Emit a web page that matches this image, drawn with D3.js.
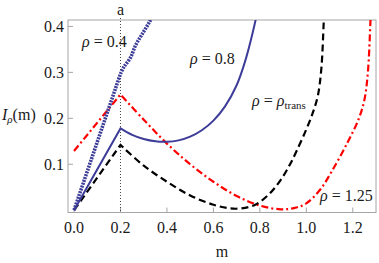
<!DOCTYPE html>
<meta charset="utf-8" />
<style>
  body { margin: 0; background: #fff; }
  .frame { fill: none; stroke: #a6a6a6; stroke-width: 1; }
  .tick { stroke: #a6a6a6; stroke-width: 1; }
</style>
<svg width="379" height="263" font-family="Liberation Serif, DejaVu Serif, serif" font-size="16" fill="#1a1a1a"></svg>
<script src="https://d3js.org/d3.v7.min.js"></script>
<script>
  var xTicks = [0, 0.2, 0.4, 0.6, 0.8, 1.0, 1.2];
  var yTicks = [0.1, 0.2, 0.3, 0.4];
  var kinkM = 0.2;

  // rho = 0.4 (blue, dotted)
  var m04 = [0, 0.2, 0.214, 0.243, 0.265, 0.293, 0.325, 0.34];
  var i04 = [0, 0.297, 0.311, 0.332, 0.359, 0.383, 0.41, 0.425];

  // rho = 0.8 (blue, solid)
  var m08 = [0, 0.2, 0.25, 0.3, 0.35, 0.4, 0.45, 0.5, 0.55, 0.6, 0.65, 0.7, 0.74, 0.78, 0.79];
  var i08 = [0, 0.178, 0.164, 0.155, 0.15, 0.149, 0.152, 0.16, 0.174, 0.195, 0.226, 0.272, 0.33, 0.41, 0.435];

  // rho = rho_trans (black, dashed)
  var mTr = [0, 0.2, 0.3, 0.4, 0.5, 0.6, 0.67, 0.72, 0.78, 0.84, 0.89, 0.93, 0.96, 1.0, 1.03, 1.05, 1.065, 1.075, 1.08];
  var iTr = [0, 0.142, 0.097, 0.062, 0.032, 0.012, 0.004, 0.004, 0.012, 0.035, 0.066, 0.1, 0.131, 0.176, 0.215, 0.25, 0.31, 0.41, 0.46];

  // rho = 1.25 (red, dash-dot)
  var m125 = [0, 0.2, 0.3, 0.4, 0.5, 0.6, 0.7, 0.8, 0.89, 0.95, 1.0, 1.06, 1.11, 1.175, 1.225, 1.25, 1.265, 1.276, 1.28];
  var i125 = [0.129, 0.252, 0.197, 0.145, 0.1, 0.062, 0.031, 0.01, 0.002, 0.005, 0.015, 0.045, 0.085, 0.145, 0.198, 0.24, 0.3, 0.41, 0.46];

  var svg = d3.select("svg");
  var plotL = 68, plotR = 376, plotT = 20, plotB = 212.5;

  var x = d3.scaleLinear().domain([-0.026, 1.3]).range([plotL, plotR]);
  var y = d3.scaleLinear().domain([-0.005, 0.414]).range([plotB, plotT]);

  svg.append("clipPath").attr("id", "plotclip")
    .append("rect")
    .attr("x", plotL).attr("y", plotT)
    .attr("width", plotR - plotL).attr("height", plotB - plotT);

  // frame
  svg.append("rect").attr("class", "frame")
    .attr("x", plotL).attr("y", plotT)
    .attr("width", plotR - plotL).attr("height", plotB - plotT);

  // ticks (inside the frame)
  svg.selectAll(".xt").data(xTicks).enter().append("line")
    .attr("class", "tick")
    .attr("x1", function (d) { return x(d); })
    .attr("x2", function (d) { return x(d); })
    .attr("y1", plotB).attr("y2", plotB - 5);

  svg.selectAll(".yt").data(yTicks).enter().append("line")
    .attr("class", "tick")
    .attr("y1", function (d) { return y(d); })
    .attr("y2", function (d) { return y(d); })
    .attr("x1", plotL).attr("x2", plotL + 5);

  svg.selectAll(".xl").data(xTicks).enter().append("text")
    .attr("x", function (d) { return x(d); })
    .attr("y", 233)
    .attr("text-anchor", "middle")
    .text(function (d) { return d3.format(".1f")(d); });

  svg.selectAll(".yl").data(yTicks).enter().append("text")
    .attr("x", 64)
    .attr("y", function (d) { return y(d) + 5.5; })
    .attr("text-anchor", "end")
    .text(function (d) { return d3.format(".1f")(d); });

  // dotted vertical line at a
  svg.append("line")
    .attr("x1", x(kinkM)).attr("x2", x(kinkM))
    .attr("y1", 18).attr("y2", plotB)
    .attr("stroke", "#333")
    .attr("stroke-width", 0.9)
    .attr("stroke-dasharray", "1,2");

  svg.append("text")
    .attr("x", x(kinkM)).attr("y", 15)
    .attr("text-anchor", "middle")
    .text("a");

  // curves: straight up to the kink at m = a, smooth after it
  var lin = d3.line().x(function (d) { return x(d[0]); }).y(function (d) { return y(d[1]); });
  var smooth = d3.line().curve(d3.curveCatmullRom.alpha(0.5))
    .x(function (d) { return x(d[0]); }).y(function (d) { return y(d[1]); });

  function curvePath(ms, is) {
    var pts = ms.map(function (m, i) { return [m, is[i]]; });
    var k = ms.indexOf(kinkM);
    return lin(pts.slice(0, k + 1)) + smooth(pts.slice(k)).replace(/^M/, "L");
  }

  var plot = svg.append("g").attr("clip-path", "url(#plotclip)");

  plot.append("path").attr("d", curvePath(m125, i125))
    .attr("fill", "none").attr("stroke", "#ff0000")
    .attr("stroke-width", 2.2).attr("stroke-dasharray", "7,3,2,3");

  plot.append("path").attr("d", curvePath(mTr, iTr))
    .attr("fill", "none").attr("stroke", "#000")
    .attr("stroke-width", 2.2).attr("stroke-dasharray", "7,4");

  plot.append("path").attr("d", curvePath(m08, i08))
    .attr("fill", "none").attr("stroke", "#3d3d99")
    .attr("stroke-width", 2);

  plot.append("path").attr("d", curvePath(m04, i04))
    .attr("fill", "none").attr("stroke", "#3d3d99")
    .attr("stroke-width", 3.6).attr("stroke-dasharray", "2,1");

  // curve labels
  function rhoLabel(px, py, rest) {
    var t = svg.append("text").attr("x", px).attr("y", py);
    t.append("tspan").attr("font-style", "italic").text("ρ");
    t.append("tspan").text(" = " + rest);
    return t;
  }
  rhoLabel(82, 47, "0.4");
  rhoLabel(190, 64, "0.8");
  rhoLabel(320, 201, "1.25");

  var tr = svg.append("text").attr("x", 252).attr("y", 106);
  tr.append("tspan").attr("font-style", "italic").text("ρ");
  tr.append("tspan").text(" = ");
  tr.append("tspan").attr("font-style", "italic").text("ρ");
  tr.append("tspan").attr("dy", 3).attr("font-size", 11).text("trans");

  // axis labels
  var yl = svg.append("text").attr("x", 2).attr("y", 120);
  yl.append("tspan").attr("font-style", "italic").text("I");
  yl.append("tspan").attr("dy", 3).attr("font-size", 11).attr("font-style", "italic").text("ρ");
  yl.append("tspan").attr("dy", -3).text("(m)");

  svg.append("text")
    .attr("x", (plotL + plotR) / 2).attr("y", 257)
    .attr("text-anchor", "middle")
    .text("m");
</script>
